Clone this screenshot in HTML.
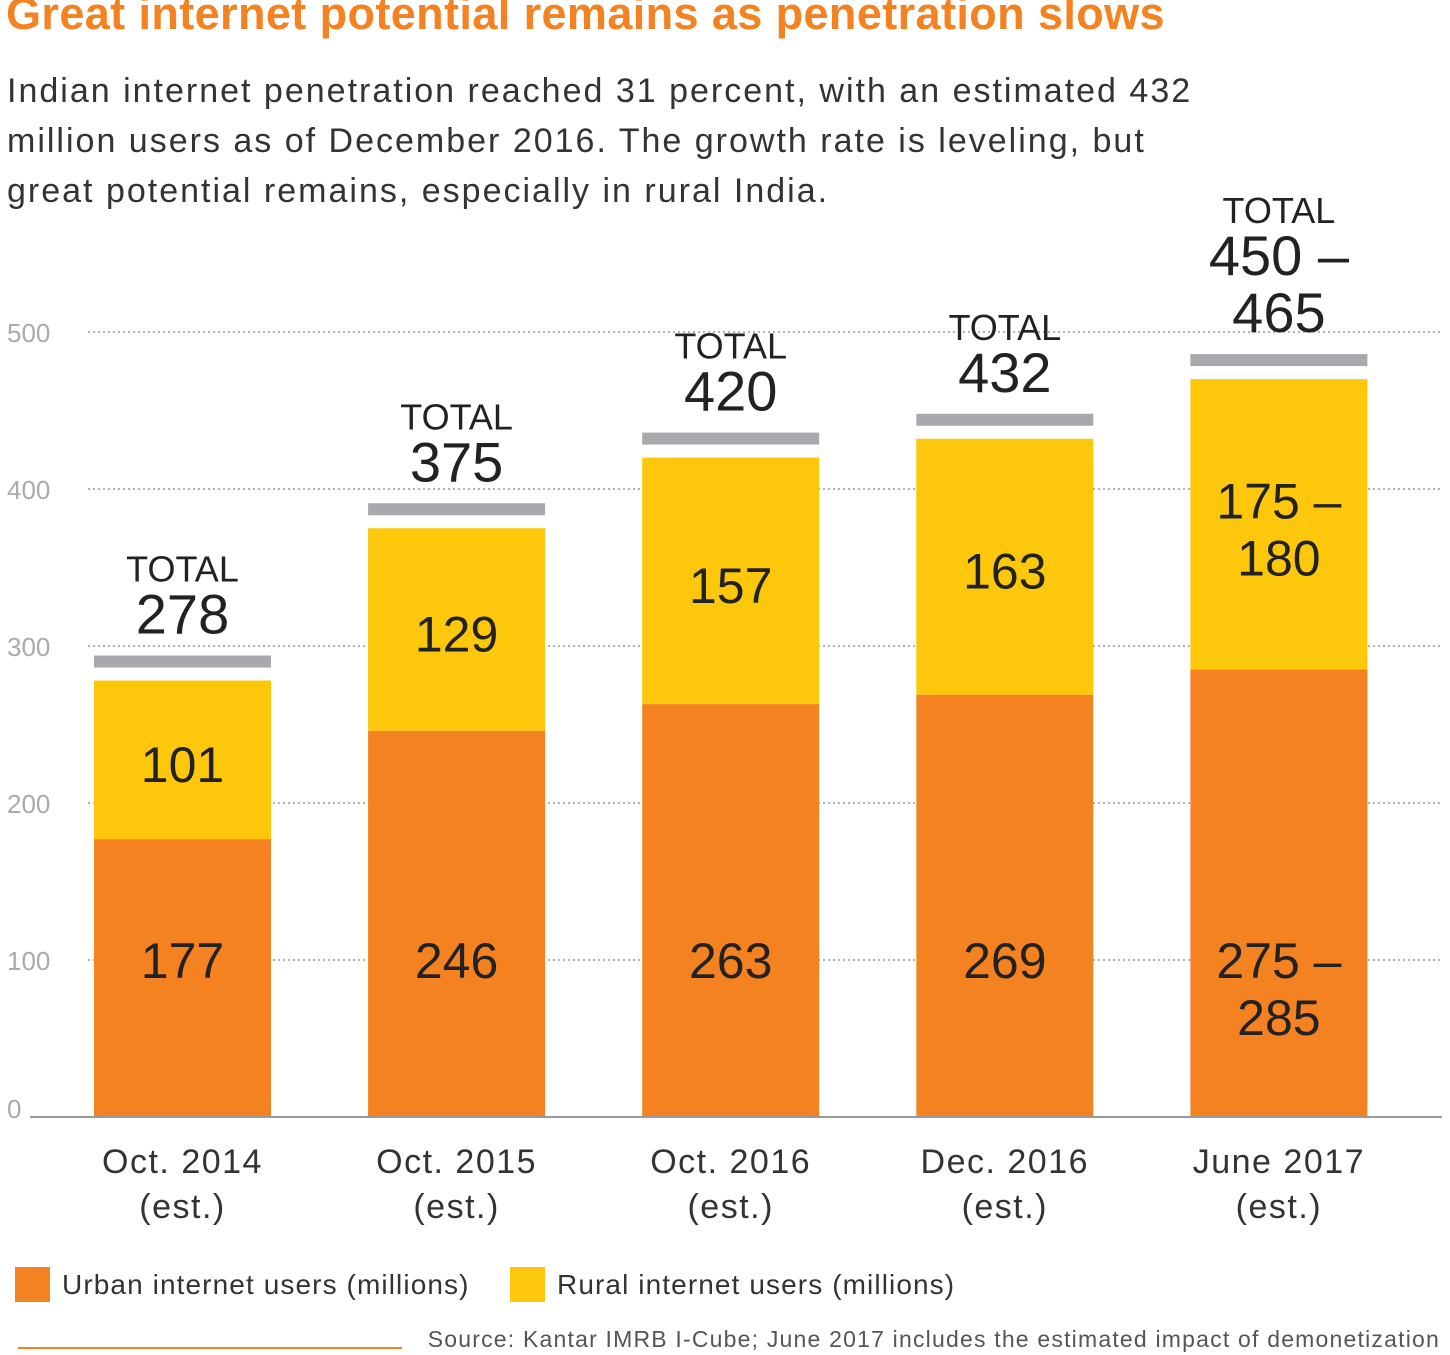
<!DOCTYPE html>
<html><head><meta charset="utf-8"><style>
body{margin:0;background:#fff;}
#wrap{position:relative;width:1450px;height:1355px;overflow:hidden;font-family:"Liberation Sans",sans-serif;}
.t{position:absolute;white-space:nowrap;}
</style></head><body>
<div id="wrap">
<div class="t" style="left:6px;top:-12px;font-size:45px;font-weight:bold;color:#f58220;letter-spacing:0.4px;">Great internet potential remains as penetration slows</div>
<div class="t" style="left:7px;top:66px;font-size:34px;line-height:50px;color:#333;letter-spacing:2px;">Indian internet penetration reached 31 percent, with an estimated 432<br>million users as of December 2016. The growth rate is leveling, but<br>great potential remains, especially in rural India.</div>
<svg id="chart" width="1450" height="1355" style="position:absolute;left:0;top:0"></svg>
<div class="t" style="left:15px;top:1267px;"><span style="display:inline-block;width:35px;height:35px;background:#f58220;vertical-align:middle;"></span><span style="font-size:28px;color:#333;margin-left:12px;vertical-align:middle;letter-spacing:1.1px;">Urban internet users (millions)</span></div>
<div class="t" style="left:510px;top:1267px;"><span style="display:inline-block;width:35px;height:35px;background:#fdc70c;vertical-align:middle;"></span><span style="font-size:28px;color:#333;margin-left:12px;vertical-align:middle;letter-spacing:1.1px;">Rural internet users (millions)</span></div>
<div style="position:absolute;left:18px;top:1347px;width:384px;height:2px;background:#f58220;"></div>
<div class="t" style="right:10px;top:1326px;font-size:23px;color:#555;letter-spacing:1.2px;">Source: Kantar IMRB I-Cube; June 2017 includes the estimated impact of demonetization</div>
</div>
<script>
const categories=["Oct. 2014|(est.)","Oct. 2015|(est.)","Oct. 2016|(est.)","Dec. 2016|(est.)","June 2017|(est.)"];
const urban=[177,246,263,269,285];
const rural=[101,129,157,163,185];
const urbanLabels=["177","246","263","269","275 –|285"];
const ruralLabels=["101","129","157","163","175 –|180"];
const totalLabels=["278","375","420","432","450 –|465"];
const yTicks=[0,100,200,300,400,500];
const NS="http://www.w3.org/2000/svg";
const svg=document.getElementById('chart');
const y0=1117,k=1.57;
const y=v=>y0-v*k;
const x=i=>94+i*274.1;
const bw=177;
function el(tag,attrs,txt){const e=document.createElementNS(NS,tag);for(const a in attrs)e.setAttribute(a,attrs[a]);if(txt!=null)e.textContent=txt;svg.appendChild(e);return e;}
yTicks.forEach(v=>{
 if(v>0){const g=el('line',{x1:88,x2:1442,y1:y(v),y2:y(v),stroke:'#999','stroke-width':1.5,'stroke-dasharray':'2,3'});
 
 }
 const t=el('text',{x:7,y:(v==0?y(v)+1:y(v)+10),'font-size':26,fill:'#aaa'},String(v));
 
 
});
function multi(lines,cx,base,lh,size,fill,name,ls){lines.forEach((s,j)=>{const t=el('text',{x:cx,y:base+j*lh,'font-size':size,fill:fill,'text-anchor':'middle','letter-spacing':ls||0},s);
 
 });}
categories.forEach((c,i)=>{
 const tot=urban[i]+rural[i];const cx=x(i)+bw/2;
 const u=el('rect',{x:x(i),y:y(urban[i]),width:bw,height:urban[i]*k,fill:'#f58220'});
 
 
 const r=el('rect',{x:x(i),y:y(tot),width:bw,height:rural[i]*k,fill:'#fdc70c'});
 
 
 const gTop=y(tot)-25;
 const g=el('rect',{x:x(i),y:gTop,width:bw,height:12,fill:'#a7a9ac'});
 
 
 const ul=urbanLabels[i].split('|'),rl=ruralLabels[i].split('|'),tl=totalLabels[i].split('|');
 multi(ul,cx,y(100)+18,57,50,'#222','urban-value-label');
 multi(rl,cx,y(urban[i]+rural[i]/2)+22-(rl.length-1)*28,57,50,'#222','rural-value-label');
 const nb=gTop-22-(tl.length-1)*57;
 multi(tl,cx,nb,57,56,'#222','total-value-label');
 const tt=el('text',{x:cx,y:nb-52,'font-size':36,fill:'#222','text-anchor':'middle'},'TOTAL');
 
 
 multi(c.split('|'),cx,1173,45,34,'#333','x-axis-label',1.5);
});
const b=el('line',{x1:30,x2:1442,y1:y0,y2:y0,stroke:'#999','stroke-width':2});


</script>
</body></html>
